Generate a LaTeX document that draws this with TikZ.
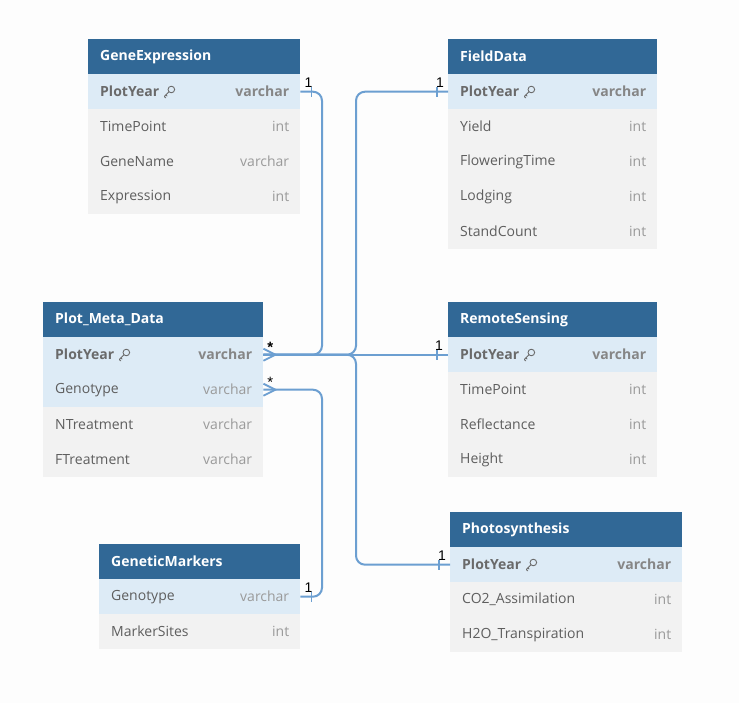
\documentclass[tikz,border=0pt]{standalone}
\usepackage{fontspec}
\setmainfont{Open Sans}
\newfontfamily\cardfont{Liberation Sans}
\usetikzlibrary{calc}
\definecolor{hdrc}{HTML}{316896}
\definecolor{keyc}{HTML}{DDEBF6}
\definecolor{rowc}{HTML}{F2F2F2}
\definecolor{connc}{HTML}{6C9FD1}
\definecolor{fieldc}{HTML}{5E5E5E}
\definecolor{typec}{HTML}{9A9A9A}
\definecolor{keytxt}{HTML}{6A6A6A}
\definecolor{keytyp}{HTML}{868686}
\definecolor{bgc}{HTML}{FDFDFD}
\tikzset{
  cell/.style={rectangle, inner sep=0pt, minimum height=35pt, anchor=north west, draw=none},
  hdr/.style={cell, fill=hdrc},
  keyrow/.style={cell, fill=keyc},
  plainrow/.style={cell, fill=rowc},
  hdrtxt/.style={inner sep=0pt, anchor=west, text=white, font=\bfseries\fontsize{14}{16}\selectfont},
  fieldtxt/.style={inner sep=0pt, anchor=west, text=fieldc, font=\fontsize{14}{16}\selectfont},
  typetxt/.style={inner sep=0pt, anchor=east, text=typec, font=\fontsize{14}{16}\selectfont},
  keyfield/.style={fieldtxt, text=keytxt, font=\bfseries\fontsize{14}{16}\selectfont},
  keytype/.style={typetxt, text=keytyp, font=\bfseries\fontsize{14}{16}\selectfont},
  conn/.style={draw=connc, line width=2pt, rounded corners=9pt},
  tick/.style={draw=connc, line width=1.6pt},
  card/.style={inner sep=0pt, anchor=south, text=black, font=\cardfont\fontsize{14}{15}\selectfont},
  keyicon/.style={draw=keytxt, line width=0.9pt, line join=round, line cap=round}
}
% header: name, x1, x2, top, title
\newcommand\erhead[5]{%
  \node[hdr, minimum width={#3-#2}] (#1) at (#2,#4) {};
  \node[hdrtxt] (#1-t) at ([xshift=12pt]#1.west) {#5};
}
% row: name, x1, x2, top, style, field, type, fieldstyle, typestyle
\newcommand\errow[9]{%
  \node[#5, minimum width={#3-#2}] (#1) at (#2,#4) {};
  \node[#8] (#1-f) at ([xshift=12pt]#1.west) {#6};
  \node[#9] (#1-y) at ([xshift=-11pt]#1.east) {#7};
}
\newcommand\erkey[1]{%
  \draw[keyicon] ([xshift=12pt,yshift=2.2pt]#1.east) circle (3.3pt);
  \draw[keyicon] ([xshift=9.7pt,yshift=-0.1pt]#1.east) -- ([xshift=5pt,yshift=-4.8pt]#1.east)
     -- ([xshift=6.4pt,yshift=-6.2pt]#1.east);
  \draw[keyicon] ([xshift=6.6pt,yshift=-3.2pt]#1.east) -- ([xshift=7.8pt,yshift=-4.4pt]#1.east);
}
\begin{document}
\begin{tikzpicture}[x=1pt,y=-1pt]
\useasboundingbox[fill=bgc] (0,0) rectangle (739,703);

% GeneExpression
\erhead{ge}{88}{300}{39}{GeneExpression}
\errow{ge1}{88}{300}{74}{keyrow}{PlotYear}{varchar}{keyfield}{keytype}
\errow{ge2}{88}{300}{109}{plainrow}{TimePoint}{int}{fieldtxt}{typetxt}
\errow{ge3}{88}{300}{144}{plainrow}{GeneName}{varchar}{fieldtxt}{typetxt}
\errow{ge4}{88}{300}{179}{plainrow}{Expression}{int}{fieldtxt}{typetxt}
\erkey{ge1-f}

% FieldData
\erhead{fd}{448}{657}{39}{FieldData}
\errow{fd1}{448}{657}{74}{keyrow}{PlotYear}{varchar}{keyfield}{keytype}
\errow{fd2}{448}{657}{109}{plainrow}{Yield}{int}{fieldtxt}{typetxt}
\errow{fd3}{448}{657}{144}{plainrow}{FloweringTime}{int}{fieldtxt}{typetxt}
\errow{fd4}{448}{657}{179}{plainrow}{Lodging}{int}{fieldtxt}{typetxt}
\errow{fd5}{448}{657}{214}{plainrow}{StandCount}{int}{fieldtxt}{typetxt}
\erkey{fd1-f}

% Plot_Meta_Data
\erhead{pm}{43}{263}{302}{Plot\_Meta\_Data}
\errow{pm1}{43}{263}{337}{keyrow}{PlotYear}{varchar}{keyfield}{keytype}
\errow{pm2}{43}{263}{372}{keyrow}{Genotype}{varchar}{fieldtxt}{typetxt}
\errow{pm3}{43}{263}{407}{plainrow}{NTreatment}{varchar}{fieldtxt}{typetxt}
\errow{pm4}{43}{263}{442}{plainrow}{FTreatment}{varchar}{fieldtxt}{typetxt}
\erkey{pm1-f}

% RemoteSensing
\erhead{rs}{448}{657}{302}{RemoteSensing}
\errow{rs1}{448}{657}{337}{keyrow}{PlotYear}{varchar}{keyfield}{keytype}
\errow{rs2}{448}{657}{372}{plainrow}{TimePoint}{int}{fieldtxt}{typetxt}
\errow{rs3}{448}{657}{407}{plainrow}{Reflectance}{int}{fieldtxt}{typetxt}
\errow{rs4}{448}{657}{442}{plainrow}{Height}{int}{fieldtxt}{typetxt}
\erkey{rs1-f}

% GeneticMarkers
\erhead{gm}{99}{300}{544}{GeneticMarkers}
\errow{gm1}{99}{300}{579}{keyrow}{Genotype}{varchar}{fieldtxt}{typetxt}
\errow{gm2}{99}{300}{614}{plainrow}{MarkerSites}{int}{fieldtxt}{typetxt}

% Photosynthesis
\erhead{ph}{450}{682}{512}{Photosynthesis}
\errow{ph1}{450}{682}{547}{keyrow}{PlotYear}{varchar}{keyfield}{keytype}
\errow{ph2}{450}{682}{582}{plainrow}{CO2\_Assimilation}{int}{fieldtxt}{typetxt}
\errow{ph3}{450}{682}{617}{plainrow}{H2O\_Transpiration}{int}{fieldtxt}{typetxt}
\erkey{ph1-f}

% junction columns
\coordinate (j1) at (322,0);
\coordinate (j2) at (356,0);

% connectors
\draw[conn] (ge1.east) -- (ge1.east -| j1) |- (pm1.east);
\draw[conn] (fd1.west) -- (fd1.west -| j2) |- (pm1.east);
\draw[conn] (rs1.west) -- (pm1.east);
\draw[conn] (ph1.west) -- (ph1.west -| j2) |- (pm1.east);
\draw[conn] (gm1.east) -- (gm1.east -| j1) |- (pm2.east);

% crow's feet (many side)
\foreach \n in {pm1,pm2}{
  \draw[tick, line width=1.8pt] ([yshift=6pt]\n.east) -- ([xshift=12pt]\n.east) -- ([yshift=-6pt]\n.east);
}
\node[card, font=\cardfont\fontsize{15}{16}\selectfont\bfseries] (s1) at ([xshift=7pt,yshift=2pt]pm1.east) {*};
\node[card, font=\cardfont\fontsize{15}{16}\selectfont] (s2) at ([xshift=7pt,yshift=2pt]pm2.east) {*};

% one-side ticks
\foreach \n/\s in {ge1.east/1, gm1.east/1, fd1.west/-1, rs1.west/-1, ph1.west/-1}{
  \draw[tick] ([xshift=\s*11pt, yshift=5pt]\n) -- ([xshift=\s*11pt, yshift=-5pt]\n);
}
\node[card] (o1) at ([xshift=8pt,yshift=4pt]ge1.east) {1};
\node[card] (o2) at ([xshift=8pt,yshift=4pt]gm1.east) {1};
\node[card] (o3) at ([xshift=-8pt,yshift=4pt]fd1.west) {1};
\node[card] (o4) at ([xshift=-9pt,yshift=4pt]rs1.west) {1};
\node[card] (o5) at ([xshift=-8pt,yshift=4pt]ph1.west) {1};
\end{tikzpicture}
\end{document}
